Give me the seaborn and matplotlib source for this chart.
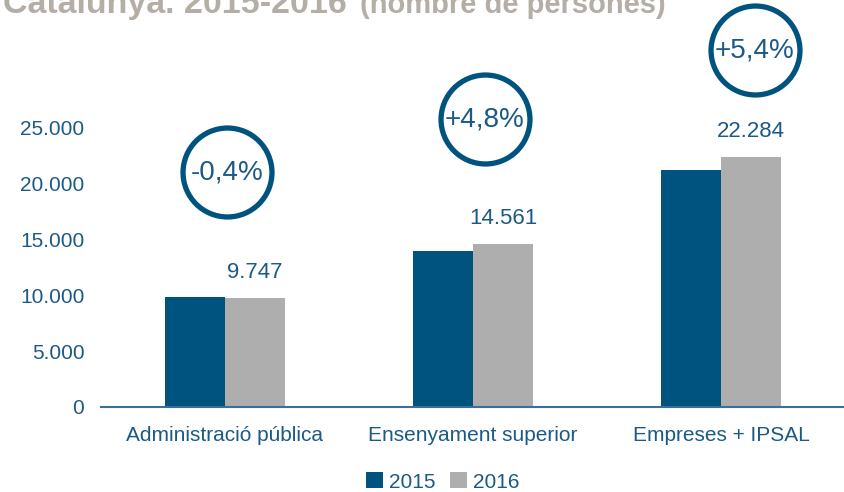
import matplotlib
matplotlib.use("Agg")
import matplotlib.pyplot as plt
import seaborn as sns
import pandas as pd
from matplotlib.patches import Patch

categories = ["Administració pública", "Ensenyament superior", "Empreses + IPSAL"]
years = ["2015", "2016"]
values_2015 = [9786, 13894, 21142]
values_2016 = [9747, 14561, 22284]
value_labels_2016 = ["9.747", "14.561", "22.284"]
changes = ["-0,4%", "+4,8%", "+5,4%"]
change_x = [0.008, 1.048, 2.137]
change_y = [20980, 25710, 31870]
yticks = [0, 5000, 10000, 15000, 20000, 25000]
ytick_labels = ["0", "5.000", "10.000", "15.000", "20.000", "25.000"]

BLUE = "#00527F"
GREY = "#AEAEAE"
TXT = "#1B5A87"
TITLE = "#B4AEA6"

sns.set_theme(style="white")
plt.rcParams["font.family"] = ["Liberation Sans", "DejaVu Sans"]

df = pd.DataFrame({
    "cat": categories * 2,
    "year": [years[0]] * 3 + [years[1]] * 3,
    "val": values_2015 + values_2016,
})

fig = plt.figure(figsize=(8.45, 4.92), dpi=100)
ax = fig.add_axes([101 / 845, (492 - 407) / 492, 744 / 845, 407 / 492])
sns.barplot(data=df, x="cat", y="val", hue="year", palette=[BLUE, GREY],
            width=0.484, gap=0, ax=ax, legend=False, saturation=1, linewidth=0)

ax.set_xlim(-0.5, 2.5)
ax.set_ylim(0, 36340)
ax.set_yticks(yticks)
ax.set_yticklabels(ytick_labels)
ax.set_xlabel("")
ax.set_ylabel("")
for s in ["top", "right", "left"]:
    ax.spines[s].set_visible(False)
ax.spines["bottom"].set_color("#3C6E96")
ax.spines["bottom"].set_linewidth(1.5)
ax.tick_params(axis="y", length=0, pad=12, labelsize=15, labelcolor=TXT)
ax.tick_params(axis="x", length=0, pad=14, labelsize=15, labelcolor=TXT)

ax.bar_label(ax.containers[1], labels=value_labels_2016, padding=11,
             fontsize=16, color=TXT)

ax.scatter(change_x, change_y, s=4100, facecolors="white", edgecolors=BLUE,
           linewidths=3.8, clip_on=False, zorder=5)
for x, y, t in zip(change_x, change_y, changes):
    ax.text(x, y, t, ha="center", va="center", fontsize=20, color=TXT,
            zorder=6, clip_on=False)

handles = [Patch(facecolor=BLUE, edgecolor="none"), Patch(facecolor=GREY, edgecolor="none")]
fig.legend(handles, years, loc="center", bbox_to_anchor=(443 / 845, 1 - 482 / 492),
           ncol=2, frameon=False, fontsize=15, labelcolor=TXT, handlelength=0.8,
           handleheight=0.8, handletextpad=0.3, columnspacing=0.7)

fig.text(3 / 845, 1 - 13 / 492, "Catalunya. 2015-2016", fontsize=24.5, fontweight="bold",
         color=TITLE, ha="left", va="baseline")
fig.text(360 / 845, 1 - 13 / 492, "(nombre de persones)", fontsize=21, fontweight="bold",
         color=TITLE, ha="left", va="baseline")

fig.savefig("out.png", dpi=100)
